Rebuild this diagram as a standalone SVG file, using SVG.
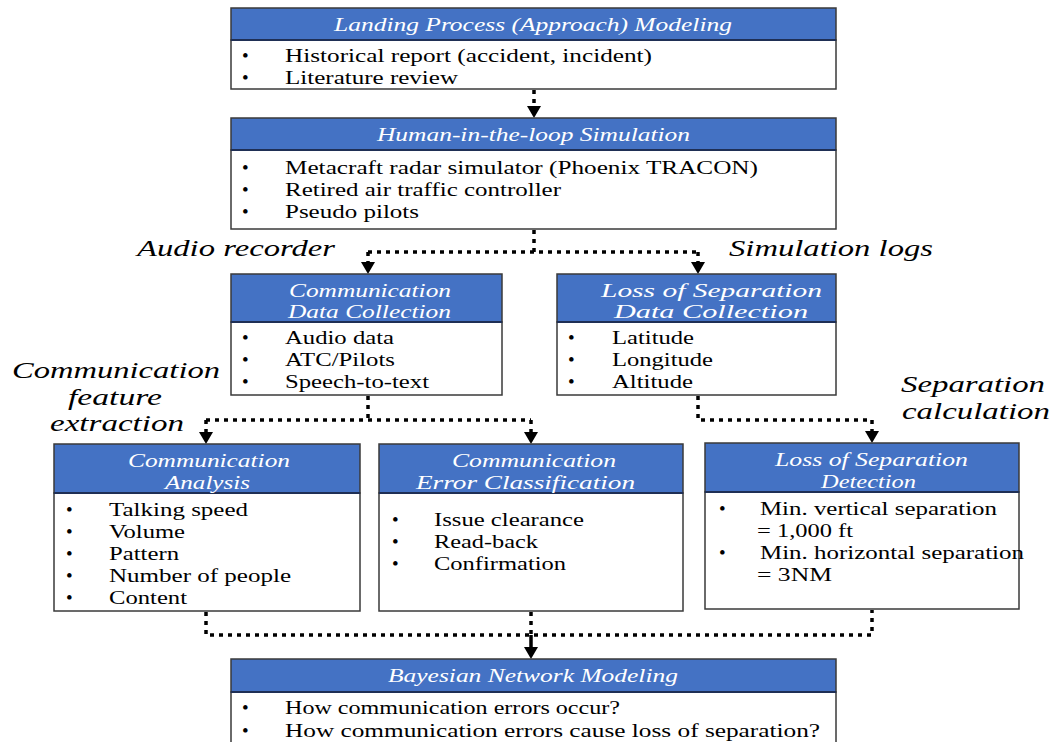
<svg xmlns="http://www.w3.org/2000/svg" width="1053" height="742" viewBox="0 0 1053 742" font-family="Liberation Serif, Times New Roman, serif">
  <style>
    .hd { fill: #4472C4; stroke: #3a3a3a; stroke-width: 1.5; }
    .bd { fill: #ffffff; stroke: #3a3a3a; stroke-width: 1.5; }
    .sep { stroke: #1f2f55; stroke-width: 2; }
    .ht { font-style: italic; font-size: 19px; fill: #ffffff; }
    .bt { font-size: 19px; fill: #000000; }
    .lb { font-style: italic; font-size: 24px; fill: #000000; }
    .dot { fill: none; stroke: #000000; stroke-width: 3.5; stroke-dasharray: 4 5; }
    .solid { fill: none; stroke: #000000; stroke-width: 3.5; }
    .ah { fill: #000000; }
  </style>

  <!-- Connectors -->
  <g id="connectors">
    <!-- Landing process to simulation -->
    <path class="dot" d="M534,90 V106"/>
    <polygon class="ah" points="527,106 541,106 534,118"/>
    <!-- Simulation split to the two data collections -->
    <path class="dot" d="M534,230 V252 M368,252 H698 M368,252 V262 M698,252 V262"/>
    <polygon class="ah" points="361,262 375,262 368,274"/>
    <polygon class="ah" points="691,262 705,262 698,274"/>
    <!-- Communication data to analysis and error classification -->
    <path class="dot" d="M368,396 V420 M206,420 H531 M206,420 V432 M531,420 V432"/>
    <polygon class="ah" points="199,432 213,432 206,444"/>
    <polygon class="ah" points="524,432 538,432 531,444"/>
    <!-- Separation data to detection -->
    <path class="dot" d="M698,396 V420 H872 V431"/>
    <polygon class="ah" points="865,431 879,431 872,443"/>
    <!-- Merge into Bayesian network -->
    <path class="dot" d="M206,612 V635 H872 V610 M531,612 V635"/>
    <path class="solid" d="M531,635 V648"/>
    <polygon class="ah" points="524,647 538,647 531,659"/>
  </g>

  <!-- Side labels -->
  <g id="labels">
    <text class="lb" x="137" y="256" textLength="198" lengthAdjust="spacingAndGlyphs">Audio recorder</text>
    <text class="lb" x="729" y="256" textLength="204" lengthAdjust="spacingAndGlyphs">Simulation logs</text>
    <text class="lb" x="12" y="378" textLength="208" lengthAdjust="spacingAndGlyphs">Communication</text>
    <text class="lb" x="68" y="405" textLength="94" lengthAdjust="spacingAndGlyphs">feature</text>
    <text class="lb" x="50" y="431" textLength="134" lengthAdjust="spacingAndGlyphs">extraction</text>
    <text class="lb" x="901" y="392" textLength="144" lengthAdjust="spacingAndGlyphs">Separation</text>
    <text class="lb" x="902" y="419" textLength="148" lengthAdjust="spacingAndGlyphs">calculation</text>
  </g>

  <g id="landing-process">
    <rect class="hd" x="231" y="8" width="605" height="32"/>
    <rect class="bd" x="231" y="40" width="605" height="49"/>
    <line class="sep" x1="231" y1="40" x2="836" y2="40"/>
    <text class="ht" x="334" y="31" textLength="398" lengthAdjust="spacingAndGlyphs">Landing Process (Approach) Modeling</text>
    <text class="bt" x="242" y="62">•</text>
    <text class="bt" x="285" y="62" textLength="367" lengthAdjust="spacingAndGlyphs">Historical report (accident, incident)</text>
    <text class="bt" x="242" y="84">•</text>
    <text class="bt" x="285" y="84" textLength="173" lengthAdjust="spacingAndGlyphs">Literature review</text>
  </g>

  <g id="hitl-simulation">
    <rect class="hd" x="231" y="118" width="605" height="32"/>
    <rect class="bd" x="231" y="150" width="605" height="79"/>
    <line class="sep" x1="231" y1="150" x2="836" y2="150"/>
    <text class="ht" x="377" y="141" textLength="313" lengthAdjust="spacingAndGlyphs">Human-in-the-loop Simulation</text>
    <text class="bt" x="242" y="174">•</text>
    <text class="bt" x="285" y="174" textLength="473" lengthAdjust="spacingAndGlyphs">Metacraft radar simulator (Phoenix TRACON)</text>
    <text class="bt" x="242" y="196">•</text>
    <text class="bt" x="285" y="196" textLength="276" lengthAdjust="spacingAndGlyphs">Retired air traffic controller</text>
    <text class="bt" x="242" y="218">•</text>
    <text class="bt" x="285" y="218" textLength="134" lengthAdjust="spacingAndGlyphs">Pseudo pilots</text>
  </g>

  <g id="comm-data-collection">
    <rect class="hd" x="231" y="274" width="271" height="48"/>
    <rect class="bd" x="231" y="322" width="271" height="73"/>
    <line class="sep" x1="231" y1="322" x2="502" y2="322"/>
    <text class="ht" x="289" y="297" textLength="162" lengthAdjust="spacingAndGlyphs">Communication</text>
    <text class="ht" x="288" y="318" textLength="163" lengthAdjust="spacingAndGlyphs">Data Collection</text>
    <text class="bt" x="242" y="344">•</text>
    <text class="bt" x="285" y="344" textLength="109" lengthAdjust="spacingAndGlyphs">Audio data</text>
    <text class="bt" x="242" y="366">•</text>
    <text class="bt" x="285" y="366" textLength="110" lengthAdjust="spacingAndGlyphs">ATC/Pilots</text>
    <text class="bt" x="242" y="388">•</text>
    <text class="bt" x="285" y="388" textLength="144" lengthAdjust="spacingAndGlyphs">Speech-to-text</text>
  </g>

  <g id="los-data-collection">
    <rect class="hd" x="557" y="274" width="279" height="48"/>
    <rect class="bd" x="557" y="322" width="279" height="73"/>
    <line class="sep" x1="557" y1="322" x2="836" y2="322"/>
    <text class="ht" x="601" y="297" textLength="221" lengthAdjust="spacingAndGlyphs">Loss of Separation</text>
    <text class="ht" x="614" y="318" textLength="194" lengthAdjust="spacingAndGlyphs">Data Collection</text>
    <text class="bt" x="568" y="344">•</text>
    <text class="bt" x="612" y="344" textLength="82" lengthAdjust="spacingAndGlyphs">Latitude</text>
    <text class="bt" x="568" y="366">•</text>
    <text class="bt" x="612" y="366" textLength="101" lengthAdjust="spacingAndGlyphs">Longitude</text>
    <text class="bt" x="568" y="388">•</text>
    <text class="bt" x="612" y="388" textLength="81" lengthAdjust="spacingAndGlyphs">Altitude</text>
  </g>

  <g id="comm-analysis">
    <rect class="hd" x="54" y="444" width="306" height="49"/>
    <rect class="bd" x="54" y="493" width="306" height="118"/>
    <line class="sep" x1="54" y1="493" x2="360" y2="493"/>
    <text class="ht" x="128" y="467" textLength="162" lengthAdjust="spacingAndGlyphs">Communication</text>
    <text class="ht" x="165" y="489" textLength="85" lengthAdjust="spacingAndGlyphs">Analysis</text>
    <text class="bt" x="66" y="516">•</text>
    <text class="bt" x="109" y="516" textLength="139" lengthAdjust="spacingAndGlyphs">Talking speed</text>
    <text class="bt" x="66" y="538">•</text>
    <text class="bt" x="109" y="538" textLength="76" lengthAdjust="spacingAndGlyphs">Volume</text>
    <text class="bt" x="66" y="560">•</text>
    <text class="bt" x="109" y="560" textLength="70" lengthAdjust="spacingAndGlyphs">Pattern</text>
    <text class="bt" x="66" y="582">•</text>
    <text class="bt" x="109" y="582" textLength="182" lengthAdjust="spacingAndGlyphs">Number of people</text>
    <text class="bt" x="66" y="604">•</text>
    <text class="bt" x="109" y="604" textLength="78" lengthAdjust="spacingAndGlyphs">Content</text>
  </g>

  <g id="comm-error-classification">
    <rect class="hd" x="379" y="444" width="304" height="49"/>
    <rect class="bd" x="379" y="493" width="304" height="118"/>
    <line class="sep" x1="379" y1="493" x2="683" y2="493"/>
    <text class="ht" x="452" y="467" textLength="164" lengthAdjust="spacingAndGlyphs">Communication</text>
    <text class="ht" x="416" y="489" textLength="219" lengthAdjust="spacingAndGlyphs">Error Classification</text>
    <text class="bt" x="392" y="526">•</text>
    <text class="bt" x="434" y="526" textLength="150" lengthAdjust="spacingAndGlyphs">Issue clearance</text>
    <text class="bt" x="392" y="548">•</text>
    <text class="bt" x="434" y="548" textLength="104" lengthAdjust="spacingAndGlyphs">Read-back</text>
    <text class="bt" x="392" y="570">•</text>
    <text class="bt" x="434" y="570" textLength="132" lengthAdjust="spacingAndGlyphs">Confirmation</text>
  </g>

  <g id="los-detection">
    <rect class="hd" x="705" y="443" width="314" height="49"/>
    <rect class="bd" x="705" y="492" width="314" height="117"/>
    <line class="sep" x1="705" y1="492" x2="1019" y2="492"/>
    <text class="ht" x="775" y="466" textLength="193" lengthAdjust="spacingAndGlyphs">Loss of Separation</text>
    <text class="ht" x="821" y="488" textLength="95" lengthAdjust="spacingAndGlyphs">Detection</text>
    <text class="bt" x="719" y="515">•</text>
    <text class="bt" x="760" y="515" textLength="237" lengthAdjust="spacingAndGlyphs">Min. vertical separation</text>
    <text class="bt" x="757" y="537" textLength="96" lengthAdjust="spacingAndGlyphs">= 1,000 ft</text>
    <text class="bt" x="719" y="559">•</text>
    <text class="bt" x="760" y="559" textLength="264" lengthAdjust="spacingAndGlyphs">Min. horizontal separation</text>
    <text class="bt" x="757" y="581" textLength="75" lengthAdjust="spacingAndGlyphs">= 3NM</text>
  </g>

  <g id="bayesian-network">
    <rect class="hd" x="231" y="659" width="605" height="33"/>
    <rect class="bd" x="231" y="692" width="605" height="60"/>
    <line class="sep" x1="231" y1="692" x2="836" y2="692"/>
    <text class="ht" x="388" y="682" textLength="290" lengthAdjust="spacingAndGlyphs">Bayesian Network Modeling</text>
    <text class="bt" x="242" y="714">•</text>
    <text class="bt" x="285" y="714" textLength="335" lengthAdjust="spacingAndGlyphs">How communication errors occur?</text>
    <text class="bt" x="242" y="737">•</text>
    <text class="bt" x="285" y="737" textLength="535" lengthAdjust="spacingAndGlyphs">How communication errors cause loss of separation?</text>
  </g>
</svg>
